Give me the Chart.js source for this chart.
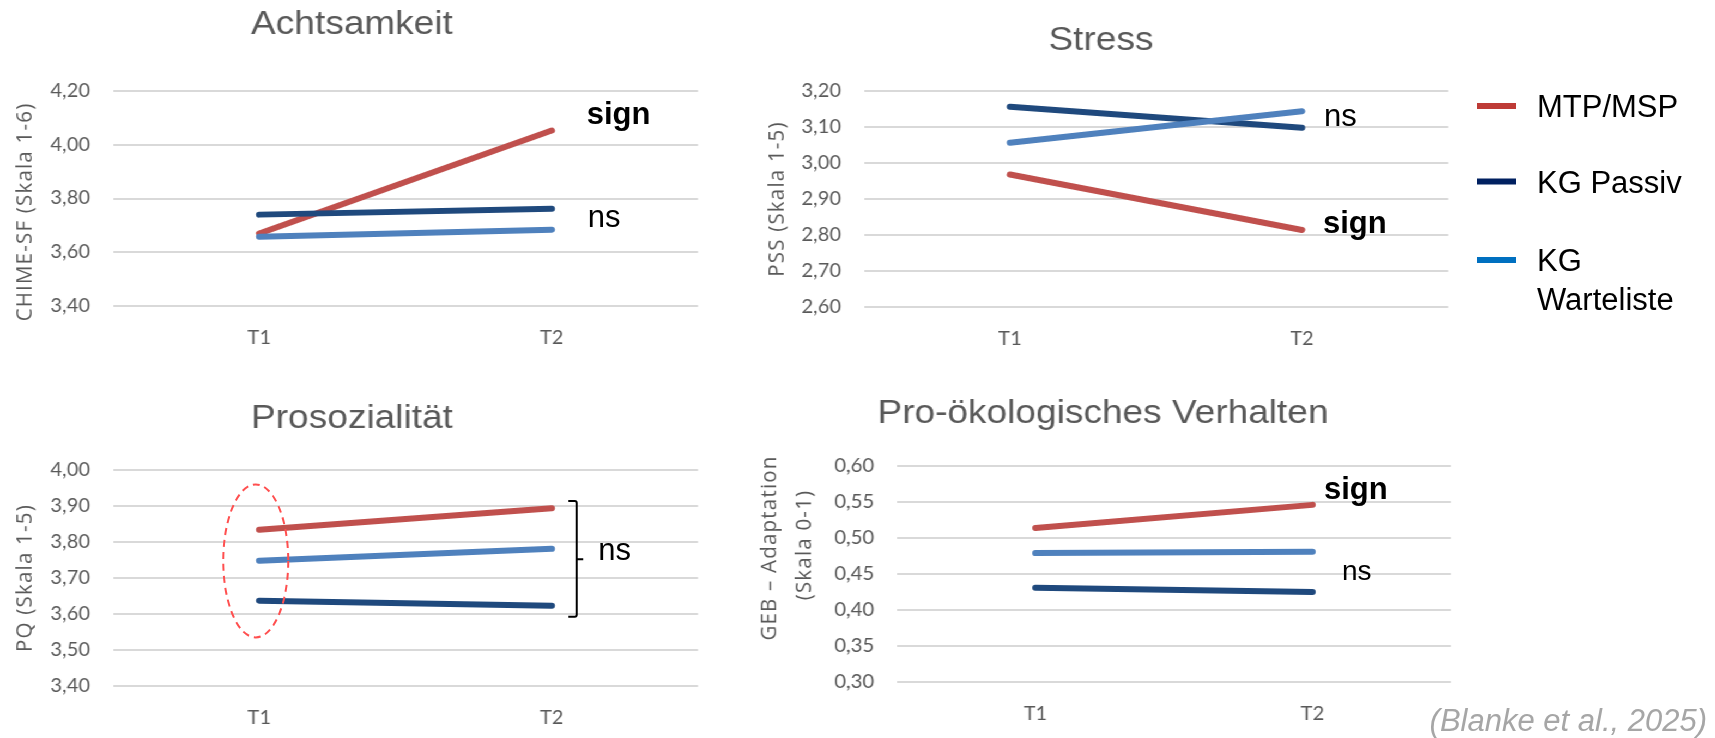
<!DOCTYPE html>
<html lang="de">
<head>
<meta charset="utf-8">
<title>Achtsamkeit, Stress, Prosozialität, Pro-ökologisches Verhalten</title>
<script src="https://cdn.jsdelivr.net/npm/chart.js@4.4.1/dist/chart.umd.min.js"></script>
<style>
html,body{margin:0;padding:0;background:#fff;}
body{width:1715px;height:738px;overflow:hidden;position:relative;}
#stretch{position:absolute;left:0;top:0;width:1580px;height:738px;transform:scaleX(1.09);transform-origin:0 0;}
#stretch canvas{position:absolute;}
#overlay{position:absolute;left:0;top:0;width:1715px;height:738px;pointer-events:none;}
</style>
</head>
<body>
<div id="stretch">
  <canvas id="c1"></canvas>
  <canvas id="c2"></canvas>
  <canvas id="c3"></canvas>
  <canvas id="c4"></canvas>
</div>
<canvas id="overlay"></canvas>
<script>
// ---------- data ----------
const timepoints = ['T1', 'T2'];
const groupNames = ['MTP/MSP', 'KG Passiv', 'KG Warteliste'];

const achtsamkeitMTP    = [3.670, 4.053];
const achtsamkeitPassiv = [3.740, 3.762];
const achtsamkeitWarte  = [3.658, 3.684];
const achtsamkeitTicks  = [3.40, 3.60, 3.80, 4.00, 4.20];

const stressMTP    = [2.968, 2.814];
const stressPassiv = [3.156, 3.098];
const stressWarte  = [3.056, 3.144];
const stressTicks  = [2.60, 2.70, 2.80, 2.90, 3.00, 3.10, 3.20];

const prosozialMTP    = [3.834, 3.894];
const prosozialPassiv = [3.637, 3.623];
const prosozialWarte  = [3.748, 3.781];
const prosozialTicks  = [3.40, 3.50, 3.60, 3.70, 3.80, 3.90, 4.00];

const oekoMTP    = [0.514, 0.546];
const oekoPassiv = [0.431, 0.425];
const oekoWarte  = [0.479, 0.481];
const oekoTicks  = [0.30, 0.35, 0.40, 0.45, 0.50, 0.55, 0.60];

const citation = '(Blanke et al., 2025)';

// ---------- styles ----------
const STRETCH = 1.09;            // chart pictures are stretched horizontally
const lineColors   = ['#C0504D', '#1F497D', '#4F81BD'];
const legendColors = ['#BE3B36', '#002060', '#0070C0'];
const drawOrder    = [2, 1, 0];
const gray = '#595959';
const deComma = v => Number(v).toFixed(2).replace('.', ',');

const panels = [
  { id: 'c1', box: {left: 0, top: 0, w: 668, h: 366},
    plot: {left: 113, right: 698, top: 91, bottom: 306},
    title: {text: 'Achtsamkeit', cx: 352, base: 34},
    yTitle: [{text: 'CHIME-SF (Skala 1-6)', cx: 25, cy: 212}],
    series: [achtsamkeitMTP, achtsamkeitPassiv, achtsamkeitWarte], ticks: achtsamkeitTicks,
    notes: [{text: 'sign', bold: true, dx: 35, value: 4.077, size: 31},
            {text: 'ns', dx: 36, value: 3.695, size: 31}] },
  { id: 'c2', box: {left: 680, top: 0, w: 665, h: 366},
    plot: {left: 864, right: 1448, top: 91, bottom: 307},
    title: {text: 'Stress', cx: 1101, base: 50},
    yTitle: [{text: 'PSS (Skala 1-5)', cx: 777, cy: 199}],
    series: [stressMTP, stressPassiv, stressWarte], ticks: stressTicks,
    notes: [{text: 'ns', dx: 22, value: 3.103, size: 31},
            {text: 'sign', bold: true, dx: 21, value: 2.806, size: 31}] },
  { id: 'c3', box: {left: 0, top: 366, w: 668, h: 372},
    plot: {left: 113, right: 698, top: 470, bottom: 686},
    title: {text: 'Prosozialität', cx: 352, base: 428},
    yTitle: [{text: 'PQ (Skala 1-5)', cx: 25, cy: 578}],
    series: [prosozialMTP, prosozialPassiv, prosozialWarte], ticks: prosozialTicks,
    notes: [{text: 'ns', dx: 46.5, value: 3.75, size: 31}],
    bracket: {dx: 25, top: 3.914, bottom: 3.5925, mid: 3.752},
    ellipse: {dx: -3.5, top: 3.96, bottom: 3.535, rx: 32.5} },
  { id: 'c4', box: {left: 680, top: 366, w: 665, h: 372},
    plot: {left: 897, right: 1451, top: 466, bottom: 682},
    title: {text: 'Pro-ökologisches Verhalten', cx: 1103, base: 423},
    yTitle: [{text: 'GEB – Adaptation', cx: 770, cy: 548},
             {text: '(Skala 0-1)', cx: 805, cy: 545}],
    series: [oekoMTP, oekoPassiv, oekoWarte], ticks: oekoTicks,
    notes: [{text: 'sign', bold: true, dx: 11.5, value: 0.554, size: 31},
            {text: 'ns', dx: 29.5, value: 0.442, size: 28}] }
];

// ---------- chart decorations (title + axis title, part of stretched picture) ----------
const decor = {
  id: 'decor',
  afterDraw(chart, args, o) {
    const p = o.panel, b = p.box, ctx = chart.ctx;
    ctx.save();
    ctx.fillStyle = gray;
    ctx.font = '34px "Liberation Sans", Arial, sans-serif';
    ctx.textAlign = 'center';
    ctx.textBaseline = 'alphabetic';
    ctx.fillText(p.title.text, p.title.cx / STRETCH - b.left, p.title.base - b.top);
    ctx.font = '20.5px "Open Sans", sans-serif';
    ctx.textBaseline = 'middle';
    if ('letterSpacing' in ctx) ctx.letterSpacing = '1.2px';
    p.yTitle.forEach(t => {
      ctx.save();
      ctx.translate(t.cx / STRETCH - b.left, t.cy - b.top);
      ctx.rotate(-Math.PI / 2);
      ctx.fillText(t.text, 0, 0);
      ctx.restore();
    });
    ctx.restore();
  }
};

function build(p) {
  const cv = document.getElementById(p.id);
  const b = p.box;
  cv.style.left = b.left + 'px';
  cv.style.top = b.top + 'px';
  cv.style.width = b.w + 'px';
  cv.style.height = b.h + 'px';
  cv.width = b.w; cv.height = b.h;
  const plotL = p.plot.left / STRETCH - b.left;
  const plotR = p.plot.right / STRETCH - b.left;
  const tickFont = {family: 'Lato, "Open Sans", sans-serif', size: 18.5};
  return new Chart(cv, {
    type: 'line',
    data: {
      labels: timepoints,
      datasets: p.series.map((s, i) => ({
        label: groupNames[i], data: s,
        borderColor: lineColors[i], backgroundColor: lineColors[i],
        borderWidth: 6, borderCapStyle: 'round', borderJoinStyle: 'round',
        pointRadius: 0, pointHoverRadius: 0, tension: 0, fill: false,
        order: drawOrder[i]
      }))
    },
    options: {
      responsive: false, animation: false, events: [],
      layout: {padding: {left: 0, top: p.plot.top - b.top, right: b.w - plotR, bottom: 0}},
      plugins: {legend: {display: false}, title: {display: false}, tooltip: {enabled: false}, decor: {panel: p}},
      scales: {
        x: {
          type: 'category', offset: true,
          grid: {display: false, drawTicks: false}, border: {display: false},
          ticks: {color: gray, font: tickFont, padding: 21, maxRotation: 0, autoSkip: false},
          afterFit: a => { a.height = b.top + b.h - p.plot.bottom; }
        },
        y: {
          min: p.ticks[0], max: p.ticks[p.ticks.length - 1],
          grid: {color: '#D9D9D9', lineWidth: 2, drawTicks: false}, border: {display: false},
          ticks: {color: gray, font: tickFont, padding: 21, callback: v => deComma(v)},
          afterBuildTicks: a => { a.ticks = p.ticks.map(v => ({value: v})); },
          afterFit: a => { a.width = plotL; }
        }
      }
    },
    plugins: [decor]
  });
}

const charts = panels.map(build);

// ---------- overlay (annotations, legend, citation) ----------
(function drawOverlay() {
  const cv = document.getElementById('overlay');
  const dpr = window.devicePixelRatio || 1;
  cv.width = 1715 * dpr; cv.height = 738 * dpr;
  const ctx = cv.getContext('2d');
  ctx.scale(dpr, dpr);
  const X = (p, ch, i) => (p.box.left + ch.scales.x.getPixelForValue(i)) * STRETCH;
  const Y = (p, ch, v) => p.box.top + ch.scales.y.getPixelForValue(v);

  panels.forEach((p, k) => {
    const ch = charts[k];
    (p.notes || []).forEach(n => {
      ctx.font = (n.bold ? 'bold ' : '') + n.size + 'px "Liberation Sans", Arial, sans-serif';
      ctx.fillStyle = '#000';
      ctx.textAlign = 'left';
      ctx.textBaseline = 'alphabetic';
      ctx.fillText(n.text, X(p, ch, 1) + n.dx, Y(p, ch, n.value));
    });
    if (p.bracket) {
      const br = p.bracket;
      const x = X(p, ch, 1) + br.dx, t = Y(p, ch, br.top), bt = Y(p, ch, br.bottom), m = Y(p, ch, br.mid);
      ctx.save();
      ctx.strokeStyle = '#000'; ctx.lineWidth = 2; ctx.lineJoin = 'round';
      ctx.beginPath();
      ctx.moveTo(x - 8.5, t); ctx.lineTo(x - 2, t); ctx.quadraticCurveTo(x, t, x, t + 2);
      ctx.lineTo(x, bt - 2); ctx.quadraticCurveTo(x, bt, x - 2, bt); ctx.lineTo(x - 8.5, bt);
      ctx.moveTo(x, m); ctx.lineTo(x + 6.5, m);
      ctx.stroke();
      ctx.restore();
    }
    if (p.ellipse) {
      const e = p.ellipse;
      const cx = X(p, ch, 0) + e.dx, t = Y(p, ch, e.top), bt = Y(p, ch, e.bottom);
      ctx.save();
      ctx.strokeStyle = '#FF4F4F'; ctx.lineWidth = 2; ctx.setLineDash([7, 5]);
      ctx.beginPath();
      ctx.ellipse(cx, (t + bt) / 2, e.rx, (bt - t) / 2, 0, 0, Math.PI * 2);
      ctx.stroke();
      ctx.restore();
    }
  });

  // legend
  const legendLineY = [106, 181.5, 260];
  ctx.font = '31px "Liberation Sans", Arial, sans-serif';
  ctx.textAlign = 'left';
  ctx.textBaseline = 'alphabetic';
  groupNames.forEach((name, i) => {
    const y = legendLineY[i];
    ctx.fillStyle = legendColors[i];
    ctx.fillRect(1477, y - 3, 39, 6);
    // word wrap
    const words = name.split(' ');
    const lines = [];
    let cur = '';
    words.forEach(w => {
      const test = cur ? cur + ' ' + w : w;
      if (cur && ctx.measureText(test).width > 170) { lines.push(cur); cur = w; } else cur = test;
    });
    lines.push(cur);
    ctx.fillStyle = '#000';
    lines.forEach((ln, j) => ctx.fillText(ln, 1537, y + 11 + j * 38.6));
  });

  // citation
  ctx.font = 'italic 31px "Liberation Sans", Arial, sans-serif';
  ctx.fillStyle = '#A6A6A6';
  ctx.textAlign = 'right';
  ctx.fillText(citation, 1707, 731);
})();
</script>
</body>
</html>
